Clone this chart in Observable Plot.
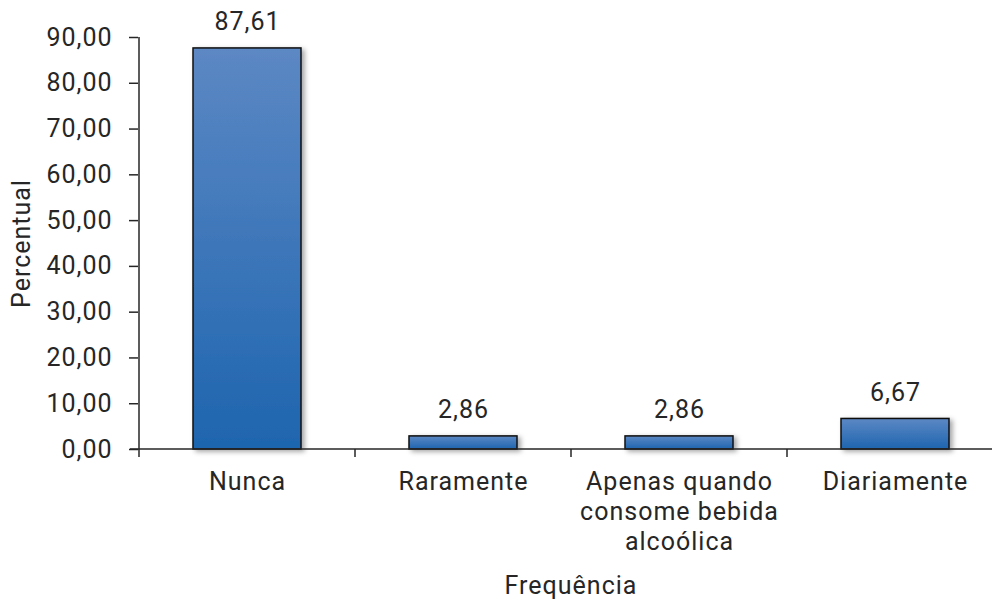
<!DOCTYPE html>
<html>
<head>
<meta charset="utf-8">
<script src="https://cdn.jsdelivr.net/npm/d3@7"></script>
<script src="https://cdn.jsdelivr.net/npm/@observablehq/plot@0.6"></script>
<style>
  html, body { margin: 0; padding: 0; background: #fff; overflow: hidden; }
  #chart { width: 992px; height: 601px; overflow: hidden; }
</style>
</head>
<body>
<div id="chart"></div>
<script>
// ---- data ----
const categories = ["Nunca", "Raramente", "Apenas quando consome bebida alcoólica", "Diariamente"];
const tickLabels = ["Nunca", "Raramente", "Apenas quando\nconsome bebida\nalcoólica", "Diariamente"];
const values = [87.61, 2.86, 2.86, 6.67];
const yTicks = [0, 10, 20, 30, 40, 50, 60, 70, 80, 90];
const yLabel = "Percentual";
const xLabel = "Frequência";

const data = categories.map((c, i) => ({category: c, value: values[i]}));
const fmt = d => d.toFixed(2).replace(".", ",");
const labelOf = d => tickLabels[categories.indexOf(d)];

const ink = "#262626";

// defs: gradient + shadow
function defsMark() {
  const defs = d3.create("svg:defs");
  const g = defs.append("linearGradient").attr("id", "barGrad")
    .attr("x1", 0).attr("y1", 0).attr("x2", 0).attr("y2", 1);
  g.append("stop").attr("offset", "0%").attr("stop-color", "#5c88c4");
  g.append("stop").attr("offset", "100%").attr("stop-color", "#1e65af");
  const f = defs.append("filter").attr("id", "barShadow")
    .attr("x", "-20%").attr("y", "-20%").attr("width", "140%").attr("height", "140%");
  f.append("feDropShadow").attr("dx", 3).attr("dy", 2).attr("stdDeviation", 2.5)
    .attr("flood-color", "#000").attr("flood-opacity", 0.35);
  return defs.node();
}

// axis lines & category boundary ticks drawn from Plot's scales
function axisLinesMark(index, scales, values, dimensions) {
  const x = scales.x, y = scales.y;
  const bw = typeof x.bandwidth === "function" ? x.bandwidth() : 0;
  const step = typeof x.step === "function" ? x.step() : (x(categories[1]) - x(categories[0]));
  const gap = (step - bw) / 2;
  const y0 = y(0), yTop = y(yTicks[yTicks.length - 1]);
  const edges = categories.map(c => x(c) - gap);
  edges.push(x(categories[categories.length - 1]) + bw + gap);
  const g = d3.create("svg:g").attr("stroke", ink).attr("stroke-width", 1.5).attr("fill", "none");
  g.append("line").attr("x1", edges[0]).attr("x2", edges[0]).attr("y1", yTop).attr("y2", y0 + 8);
  g.append("line").attr("x1", edges[0] - 9).attr("x2", edges[edges.length - 1]).attr("y1", y0).attr("y2", y0);
  for (const e of edges.slice(1)) {
    g.append("line").attr("x1", e).attr("x2", e).attr("y1", y0).attr("y2", y0 + 8);
  }
  return g.node();
}

const plot = Plot.plot({
  width: 992,
  height: 601,
  marginLeft: 138,
  marginRight: -11,
  marginTop: 37,
  marginBottom: 152,
  style: {fontFamily: "Roboto, sans-serif", fontSize: "25px", letterSpacing: "1px", color: ink, background: "white", overflow: "hidden"},
  x: {domain: categories, paddingInner: 0.5, paddingOuter: 0.25, label: null},
  y: {domain: [0, 90], label: null},
  marks: [
    defsMark,
    Plot.barY(data, {x: "category", y: "value", fill: "url(#barGrad)", stroke: "#111", strokeWidth: 1.5}),
    Plot.axisY({ticks: yTicks, tickFormat: fmt, tickSize: 9, tickPadding: 17, strokeWidth: 1.5, label: null}),
    Plot.axisX({tickSize: 0, tickPadding: 19, tickFormat: labelOf, lineHeight: 1.2, lineAnchor: "top", label: null}),
    axisLinesMark,
    Plot.text(data, {x: "category", y: "value", text: d => fmt(d.value), lineAnchor: "bottom", dy: -18, fill: ink}),
    Plot.text([yLabel], {frameAnchor: "left", dx: -117, rotate: -90, textAnchor: "middle", lineAnchor: "middle", fill: ink}),
    Plot.text([xLabel], {frameAnchor: "bottom", dy: 127, textAnchor: "middle", lineAnchor: "top", fill: ink})
  ]
});

d3.select(plot).selectAll("g[aria-label='bar']").attr("filter", "url(#barShadow)");
document.getElementById("chart").appendChild(plot);
</script>
</body>
</html>
